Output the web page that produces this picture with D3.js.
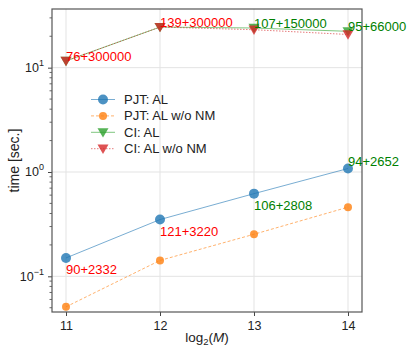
<!DOCTYPE html>
<html>
<head>
<meta charset="utf-8">
<script src="https://cdn.jsdelivr.net/npm/d3@7"></script>
<style>
  body { margin: 0; background: #fff; }
  text { font-family: "Liberation Sans", Arial, sans-serif; }
</style>
</head>
<body>
<div class="grap"></div>
<script>
// chart values
const ms = [11, 12, 13, 14];
const pjtAL = [0.15, 0.35, 0.62, 1.08];
const pjtNoNM = [0.051, 0.142, 0.253, 0.46];
const ciAL = [11.6, 24.5, 24.0, 22.3];
const ciNoNM = [11.6, 24.5, 23.1, 20.8];
const ciLabels = ["76+300000", "139+300000", "107+150000", "95+66000"];
const ciLabelColors = ["red", "red", "green", "green"];
const pjtLabels = ["90+2332", "121+3220", "106+2808", "94+2652"];
const pjtLabelColors = ["red", "red", "green", "green"];
const pjtLabelY = [0.105, 0.245, 0.434, 1.15];
const yTicks = [0.1, 1, 10];
const yTickExp = ["\u22121", "0", "1"];
const legendNames = ["PJT: AL", "PJT: AL w/o NM", "CI: AL", "CI: AL w/o NM"];

const width = 415, height = 352;
const margin = { top: 9, right: 53, bottom: 40, left: 52 };

const svg = d3.select(".grap").append("svg")
    .attr("width", width).attr("height", height);

const x = d3.scaleLinear()
    .domain([10.851, 14.149])
    .range([margin.left, width - margin.right]);
const y = d3.scaleLog()
    .domain([0.0455, 36.5])
    .range([height - margin.bottom, margin.top]);

// grid
svg.append("g").selectAll("line").data(ms).join("line")
    .attr("x1", d => x(d)).attr("x2", d => x(d))
    .attr("y1", margin.top).attr("y2", height - margin.bottom)
    .attr("stroke", "#e3e3e3").attr("stroke-width", 1);
svg.append("g").selectAll("line").data(yTicks).join("line")
    .attr("x1", margin.left).attr("x2", width - margin.right)
    .attr("y1", d => y(d)).attr("y2", d => y(d))
    .attr("stroke", "#e3e3e3").attr("stroke-width", 1);

// axes
const xAxis = g => g
    .attr("transform", `translate(0,${height - margin.bottom})`)
    .call(d3.axisBottom(x).tickValues(ms).tickFormat(d3.format("d")).tickSize(4).tickSizeOuter(0))
    .call(g => g.select(".domain").remove())
    .call(g => g.selectAll(".tick line").attr("stroke", "#444"))
    .call(g => g.selectAll(".tick text").attr("fill", "#222").attr("font-size", 12.5)
        .attr("dy", "0.85em").attr("font-family", "Liberation Sans, Arial, sans-serif"));
svg.append("g").call(xAxis);

const minor = [];
for (let e = -2; e <= 1; e++) for (let k = 2; k <= 9; k++) {
  const v = k * Math.pow(10, e);
  if (v >= 0.0455 && v <= 36.5) minor.push(v);
}
svg.append("g").selectAll("line").data(minor).join("line")
    .attr("x1", margin.left - 2.5).attr("x2", margin.left)
    .attr("y1", d => y(d)).attr("y2", d => y(d))
    .attr("stroke", "#444").attr("stroke-width", 0.8);

const yAxis = g => g
    .attr("transform", `translate(${margin.left},0)`)
    .call(d3.axisLeft(y).tickValues(yTicks).tickFormat("").tickSize(4).tickSizeOuter(0))
    .call(g => g.select(".domain").remove())
    .call(g => g.selectAll(".tick line").attr("stroke", "#444"));
svg.append("g").call(yAxis);

const yl = svg.append("g").selectAll("text").data(yTicks).join("text")
    .attr("x", margin.left - 8).attr("y", d => y(d) + 4.5)
    .attr("text-anchor", "end").attr("fill", "#222").attr("font-size", 12.5);
yl.append("tspan").text("10");
yl.append("tspan").attr("dy", -6).attr("font-size", 9).text((d, i) => yTickExp[i]);

// frame
svg.append("rect")
    .attr("x", margin.left).attr("y", margin.top)
    .attr("width", width - margin.left - margin.right)
    .attr("height", height - margin.top - margin.bottom)
    .attr("fill", "none").attr("stroke", "#555").attr("stroke-width", 1.2);

// series
const series = [
  { vals: pjtAL, color: "#1f77b4", dash: null, marker: "circle", r: 5, lw: 1 },
  { vals: pjtNoNM, color: "#ff7f0e", dash: "3,2", marker: "circle", r: 4, lw: 1 },
  { vals: ciAL, color: "#2ca02c", dash: null, marker: "tri", r: 5.5, lw: 1 },
  { vals: ciNoNM, color: "#d62728", dash: "1.5,1.5", marker: "tri", r: 5.5, lw: 1 }
];

const line = d3.line().x((d, i) => x(ms[i])).y(d => y(d));
const triPath = r => `M${-r},${-r * 0.75}L${r},${-r * 0.75}L0,${r * 0.95}Z`;

function drawMarker(g, s) {
  if (s.marker === "circle") {
    g.append("circle").attr("r", s.r).attr("fill", s.color).attr("fill-opacity", 0.8);
  } else {
    g.append("path").attr("d", triPath(s.r)).attr("fill", s.color).attr("fill-opacity", 0.8);
  }
}

series.forEach(s => {
  svg.append("path").datum(s.vals)
      .attr("fill", "none").attr("stroke", s.color).attr("stroke-opacity", 0.6)
      .attr("stroke-width", s.lw).attr("stroke-dasharray", s.dash)
      .attr("d", line);
  s.vals.forEach((v, i) => {
    const g = svg.append("g").attr("transform", `translate(${x(ms[i])},${y(v)})`);
    drawMarker(g, s);
  });
});

// annotations
svg.append("g").selectAll("text").data(ciLabels).join("text")
    .attr("x", (d, i) => x(ms[i]))
    .attr("y", (d, i) => y(i < 2 ? ciNoNM[i] : ciAL[i]))
    .attr("fill", (d, i) => ciLabelColors[i]).attr("font-size", 13)
    .text(d => d);
svg.append("g").selectAll("text").data(pjtLabels).join("text")
    .attr("x", (d, i) => x(ms[i]))
    .attr("y", (d, i) => y(pjtLabelY[i]))
    .attr("fill", (d, i) => pjtLabelColors[i]).attr("font-size", 13)
    .text(d => d);

// legend
const legend = svg.append("g");
legendNames.forEach((name, i) => {
  const s = series[i];
  const ly = 99.5 + i * 16.4;
  legend.append("line")
      .attr("x1", 91).attr("x2", 115).attr("y1", ly).attr("y2", ly)
      .attr("stroke", s.color).attr("stroke-opacity", 0.6)
      .attr("stroke-width", s.lw).attr("stroke-dasharray", s.dash);
  drawMarker(legend.append("g").attr("transform", `translate(103,${ly})`), s);
  legend.append("text").attr("x", 124).attr("y", ly + 4.5)
      .attr("fill", "#222").attr("font-size", 13).text(name);
});

// axis labels
const xl = svg.append("text")
    .attr("x", (margin.left + width - margin.right) / 2).attr("y", 342)
    .attr("text-anchor", "middle").attr("fill", "#222").attr("font-size", 13.5);
xl.append("tspan").text("log");
xl.append("tspan").attr("dy", 3).attr("font-size", 9.5).text("2");
xl.append("tspan").attr("dy", -3).text("(");
xl.append("tspan").attr("font-style", "italic").text("M");
xl.append("tspan").text(")");

svg.append("text")
    .attr("transform", `translate(19,${(margin.top + height - margin.bottom) / 2}) rotate(-90)`)
    .attr("text-anchor", "middle").attr("fill", "#222").attr("font-size", 14)
    .text("time [sec.]");
</script>
</body>
</html>
